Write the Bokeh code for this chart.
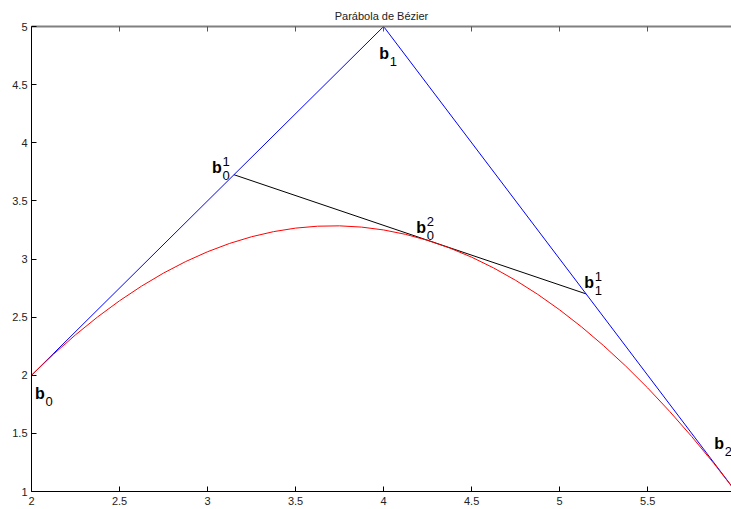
from bokeh.plotting import figure
from bokeh.models import Range1d, FixedTicker, LinearAxis
from bokeh.core.properties import value
from bokeh.embed import file_html
from bokeh.resources import INLINE

# Control polygon of the quadratic Bezier
ctrl_x = [2.0, 4.0, 6.0]
ctrl_y = [2.0, 5.0, 1.0]

# de Casteljau intermediate segment
seg_x = [3.15, 5.15]
seg_y = [3.725, 2.70]

# Point labels (baseline-left of the bold "b")
lab_x = [2.02, 3.975, 3.025, 4.186, 5.14, 5.878]
lab_y = [1.843, 4.768, 3.787, 3.268, 2.80, 1.415]
lab_main = ["b", "b", "b", "b", "b", "b"]
lab_sub = ["0", "1", "0", "0", "1", "2"]
lab_sup = ["", "", "1", "2", "1", ""]

x_ticks = [2, 2.5, 3, 3.5, 4, 4.5, 5, 5.5]
x_tick_labels = ["2", "2.5", "3", "3.5", "4", "4.5", "5", "5.5"]
y_ticks = [1, 1.5, 2, 2.5, 3, 3.5, 4, 4.5, 5]
y_tick_labels = ["1", "1.5", "2", "2.5", "3", "3.5", "4", "4.5", "5"]

FONT = "Liberation Sans"

p = figure(width=731, height=509, output_backend="svg", toolbar_location=None,
           x_range=Range1d(2, 5.976), y_range=Range1d(1, 5),
           x_axis_location=None, y_axis_location=None,
           min_border_left=31, min_border_right=0, min_border_top=26, min_border_bottom=18,
           title="Parábola de Bézier")
p.outline_line_color = None
p.xgrid.visible = False
p.ygrid.visible = False
p.background_fill_color = "white"
p.border_fill_color = "white"

p.title.align = "center"
p.title.text_font = FONT
p.title.text_font_size = "11px"
p.title.text_font_style = "normal"
p.title.text_color = "#222222"

def style_axis(ax, ticks, labels, standoff):
    ax.ticker = FixedTicker(ticks=ticks)
    ax.major_label_overrides = {t: l for t, l in zip(ticks, labels)}
    ax.major_tick_in = 5
    ax.major_tick_out = 0
    ax.minor_tick_in = 0
    ax.minor_tick_out = 0
    ax.major_tick_line_color = "black"
    ax.axis_line_color = "black"
    ax.major_label_text_font = FONT
    ax.major_label_text_font_size = "11px"
    ax.major_label_text_color = "#222222"
    ax.major_label_standoff = standoff

xb = LinearAxis()
style_axis(xb, x_ticks, x_tick_labels, 5)
p.add_layout(xb, "below")

yl = LinearAxis()
style_axis(yl, y_ticks, y_tick_labels, 4)
p.add_layout(yl, "left")

xt = LinearAxis()
style_axis(xt, x_ticks, ["" for _ in x_tick_labels], 5)
xt.major_label_text_font_size = "0px"
xt.axis_line_color = "#808080"
xt.axis_line_width = 2
xt.major_tick_line_color = "#555555"
p.add_layout(xt, "above")

# intermediate segment
p.segment(x0=[seg_x[0]], y0=[seg_y[0]], x1=[seg_x[1]], y1=[seg_y[1]],
          line_color="black", line_width=1)
# control polygon
p.line(ctrl_x, ctrl_y, line_color="#0000ff", line_width=1)
# Bezier curve
p.quadratic(x0=[ctrl_x[0]], y0=[ctrl_y[0]], x1=[ctrl_x[2]], y1=[ctrl_y[2]],
            cx=[ctrl_x[1]], cy=[ctrl_y[1]], line_color="red", line_width=1)

# labels
p.text(x=lab_x, y=lab_y, text=lab_main, text_font=value(FONT), text_font_style="bold",
       text_font_size="16px", text_baseline="alphabetic", text_align="left", text_color="black")
p.text(x=lab_x, y=lab_y, text=lab_sub, text_font=value(FONT), text_font_size="13px",
       text_baseline="alphabetic", text_align="left", text_color="black", x_offset=10.5, y_offset=8)
p.text(x=lab_x, y=lab_y, text=lab_sup, text_font=value(FONT), text_font_size="13px",
       text_baseline="alphabetic", text_align="left", text_color="black", x_offset=10.5, y_offset=-6)

open("out.html", "w").write(file_html(p, INLINE))
